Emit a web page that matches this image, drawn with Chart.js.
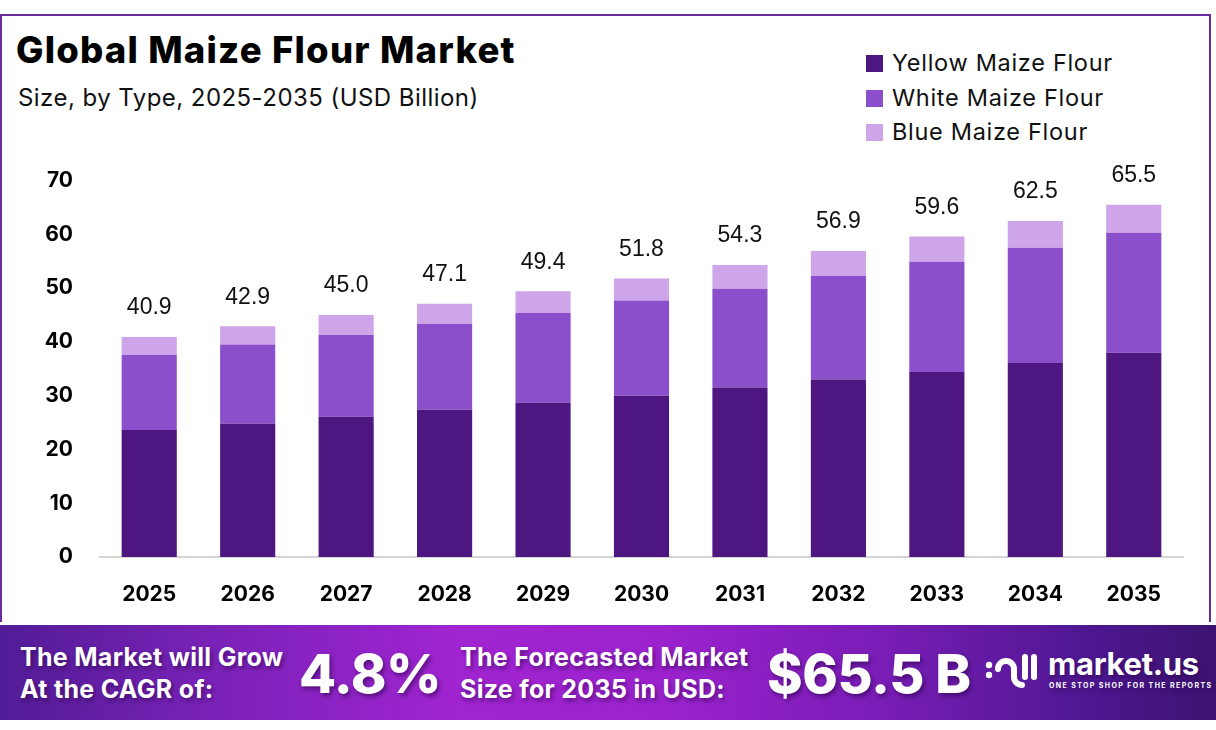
<!DOCTYPE html>
<html>
<head>
<meta charset="utf-8">
<script src="https://cdn.jsdelivr.net/npm/chart.js@4.4.1/dist/chart.umd.min.js"></script>
<style>
  html, body { margin: 0; padding: 0; background: #fff; }
  body { width: 1216px; height: 730px; position: relative; overflow: hidden; font-family: Inter, "Open Sans", sans-serif; }
  .card { position: absolute; left: 0; top: 14px; width: 1211px; height: 608px; border: 2px solid #6b2d9e; border-bottom: none; box-sizing: border-box; }
  .title { position: absolute; left: 16px; top: 32px; font-size: 36.5px; font-weight: 800; line-height: 1; color: #000; letter-spacing: 1.2px; white-space: nowrap; }
  .subtitle { position: absolute; left: 18px; top: 86px; font-size: 24px; font-weight: 400; line-height: 1; color: #111; letter-spacing: 0.45px; white-space: nowrap; }
  #legend { position: absolute; left: 866px; top: 50px; }
  .leg { position: relative; height: 34.5px; font-size: 23.5px; line-height: 1; color: #111; white-space: nowrap; letter-spacing: 0.7px; }
  .leg span.box { position: absolute; left: 0; top: 5px; width: 17px; height: 17px; }
  .leg span.txt { position: absolute; left: 26px; top: 1px; }
  .chartbox { position: absolute; left: 0; top: 141px; width: 1216px; height: 479px; }
  .footer { position: absolute; left: 0; top: 625px; width: 1216px; height: 95px;
    background: linear-gradient(90deg, #521c96 0%, #7b22b8 18%, #a124d1 38%, #9b22cd 55%, #7a1db7 72%, #4d1790 90%, #3c1370 100%); }
  .footer div { position: absolute; color: #fff; white-space: nowrap; text-shadow: 2px 3px 4px rgba(40,0,70,0.55); }
  .ftxt { font-size: 25px; font-weight: 700; line-height: 32px; letter-spacing: 0.3px; }
  .fbig { font-size: 54px; font-weight: 800; line-height: 1; letter-spacing: -0.5px; }
  .logo { font-size: 31px; font-weight: 700; line-height: 1; letter-spacing: -0.3px; }
  .tag { font-size: 7px; font-weight: 700; letter-spacing: 1.4px; line-height: 1; }
</style>
</head>
<body>
<div class="card"></div>
<div class="title">Global Maize Flour Market</div>
<div class="subtitle">Size, by Type, 2025-2035 (USD Billion)</div>
<div id="legend"></div>
<div class="chartbox"><canvas id="chart" width="1216" height="479"></canvas></div>
<div class="footer">
  <div class="ftxt" style="left:20px; top:16px;">The Market will Grow<br>At the CAGR of:</div>
  <div class="fbig" style="left:299px; top:22px;">4.8%</div>
  <div class="ftxt" style="left:460px; top:16px;">The Forecasted Market<br>Size for 2035 in USD:</div>
  <div class="fbig" style="left:767px; top:22px;">$65.5 B</div>
  <div style="left:984px; top:18px; text-shadow:none;">
    <svg width="56" height="50" viewBox="0 0 56 50">
      <g fill="none" stroke="#fff" stroke-width="6" stroke-linecap="round">
        <path d="M14 26 A8 8 0 0 1 30 26 L30 34 A8 8 0 0 0 38 42"/>
        <path d="M41 14 L41 34"/>
        <path d="M50 14 L50 34"/>
      </g>
      <circle cx="5" cy="22" r="3.2" fill="#fff"/>
      <circle cx="5" cy="32" r="3.2" fill="#fff"/>
    </svg>
  </div>
  <div class="logo" style="left:1048px; top:23px;">market.us</div>
  <div class="tag" style="left:1049px; top:57px;">ONE STOP SHOP FOR THE REPORTS</div>
</div>

<script>
const years = ["2025", "2026", "2027", "2028", "2029", "2030", "2031", "2032", "2033", "2034", "2035"];
const yellowMaize = [23.6, 24.8, 26.1, 27.4, 28.7, 30.0, 31.5, 33.0, 34.4, 36.1, 38.0];
const whiteMaize = [14.0, 14.7, 15.2, 16.0, 16.7, 17.7, 18.4, 19.3, 20.5, 21.4, 22.3];
const blueMaize = [3.3, 3.4, 3.7, 3.7, 4.0, 4.1, 4.4, 4.6, 4.7, 5.0, 5.2];
const totals = [40.9, 42.9, 45.0, 47.1, 49.4, 51.8, 54.3, 56.9, 59.6, 62.5, 65.5];
const yTicks = [0, 10, 20, 30, 40, 50, 60, 70];

const seriesNames = ["Yellow Maize Flour", "White Maize Flour", "Blue Maize Flour"];
const seriesColors = ["#4e1680", "#8b4fcc", "#cfa5e9"];

// legend built from the series
const legend = document.getElementById("legend");
seriesNames.forEach((name, i) => {
  const row = document.createElement("div");
  row.className = "leg";
  row.innerHTML = `<span class="box" style="background:${seriesColors[i]}"></span><span class="txt">${name}</span>`;
  legend.appendChild(row);
});

// totals written above each stack
const totalLabels = {
  id: "totalLabels",
  afterDatasetsDraw(chart) {
    const ctx = chart.ctx;
    const meta = chart.getDatasetMeta(chart.data.datasets.length - 1);
    ctx.save();
    ctx.font = "23px 'Liberation Sans', Arial, sans-serif";
    ctx.fillStyle = "#111";
    ctx.textAlign = "center";
    ctx.textBaseline = "middle";
    meta.data.forEach((bar, i) => {
      ctx.fillText(totals[i].toFixed(1), bar.x, bar.y - 29);
    });
    ctx.restore();
  }
};

const ctx = document.getElementById("chart").getContext("2d");
new Chart(ctx, {
  type: "bar",
  data: {
    labels: years,
    datasets: [
      { label: seriesNames[0], data: yellowMaize, backgroundColor: seriesColors[0] },
      { label: seriesNames[1], data: whiteMaize, backgroundColor: seriesColors[1] },
      { label: seriesNames[2], data: blueMaize, backgroundColor: seriesColors[2] }
    ]
  },
  options: {
    responsive: false,
    animation: false,
    barPercentage: 0.56,
    categoryPercentage: 1,
    layout: { padding: { top: 30, right: 33, left: 0, bottom: 0 } },
    plugins: {
      legend: { display: false },
      tooltip: { enabled: false }
    },
    scales: {
      x: {
        stacked: true,
        grid: { display: false, drawTicks: false },
        border: { display: true, color: "#d4d4d4", width: 2 },
        ticks: { color: "#000", padding: 25, font: { family: "Inter", size: 21, weight: "bold" } },
        afterFit(scale) { scale.height = 63; }
      },
      y: {
        stacked: true,
        min: 0,
        max: 70,
        afterBuildTicks(scale) { scale.ticks = yTicks.map(v => ({ value: v })); },
        grid: { display: false, drawTicks: false },
        border: { display: false },
        ticks: { color: "#000", padding: 27, font: { family: "Inter", size: 21, weight: "bold" } },
        afterFit(scale) { scale.width = 100; }
      }
    }
  },
  plugins: [totalLabels]
});
</script>
</body>
</html>
